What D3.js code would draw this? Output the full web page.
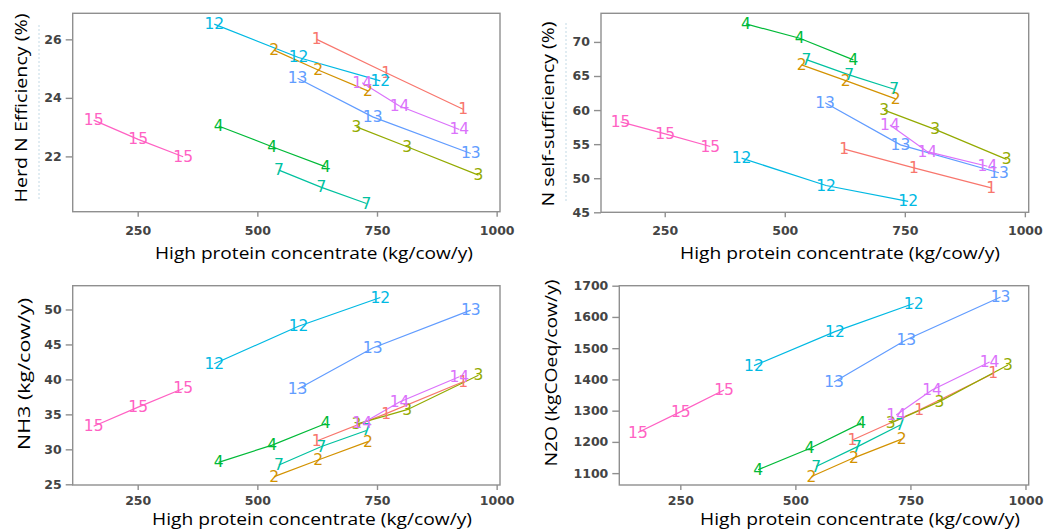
<!DOCTYPE html>
<html><head><meta charset="utf-8">
<script src="https://cdn.jsdelivr.net/npm/d3@7"></script>
<style>html,body{margin:0;padding:0;background:#fff;} svg{display:block;}</style>
</head><body>
<script>
// ---- data ----
const scenarios = ["1","2","3","4","7","12","13","14","15"];
const colors = ["#F8766D","#D39200","#93AA00","#00BA38","#00C19F","#00B9E3","#619CFF","#DB72FB","#FF61C3"];
const concentrate = [
  [624,769,930],[535,627,731],[707,813,962],[419,531,643],[545,634,728],
  [410,586,757],[584,741,946],[719,797,922],[158,251,345]
];
const herdNEfficiency = [
  [26.0,24.86,23.61],[25.63,24.95,24.24],[23.01,22.33,21.36],[23.04,22.33,21.64],[21.53,20.94,20.39],
  [26.52,25.38,24.58],[24.67,23.35,22.10],[24.52,23.72,22.92],[23.24,22.58,21.99]
];
const nSelfSufficiency = [
  [54.27,51.52,48.59],[66.63,64.33,61.64],[60.0,57.17,52.77],[72.64,70.54,67.36],[67.4,65.16,63.06],
  [52.95,48.93,46.61],[61.07,54.9,50.8],[57.8,53.9,51.76],[58.28,56.51,54.65]
];
const nh3 = [
  [31.2,35.1,39.66],[26.1,28.47,31.1],[33.6,35.67,40.6],[28.14,30.6,33.7],[27.76,30.4,32.7],
  [42.24,47.6,51.71],[38.6,44.5,49.9],[33.7,36.76,40.37],[33.3,36.04,38.7]
];
const n2o = [
  [1206,1302,1419],[1089,1149,1209],[1260,1329,1446],[1111,1179,1260],[1121,1184,1254],
  [1444,1553,1643],[1392,1527,1664],[1286,1366,1456],[1230,1297,1366]
];
const xTicks = [250,500,750,1000];
const yTicksEff = [22,24,26];
const yTicksSelf = [45,50,55,60,65,70];
const yTicksNH3 = [25,30,35,40,45,50];
const yTicksN2O = [1100,1200,1300,1400,1500,1600,1700];
const xTitle = "High protein concentrate (kg/cow/y)";
const yTitles = ["Herd N Efficiency (%)","N self-sufficiency (%)","NH3  (kg/cow/y)","N2O (kgCOeq/cow/y)"];

// ---- layout ----
const W = 1054, H = 531;
const panels = [
  {values: herdNEfficiency, yTicks: yTicksEff, yTitle: yTitles[0],
   box:{l:72.7,t:13.3,r:500,b:211.7}, xDom:[114.2,1007], yDom:[20.11,26.89],
   yTitlePos:[20,108], yTitleLen:189, xTitlePos:[314,259], xTitleLen:318, xTickY:235},
  {values: nSelfSufficiency, yTicks: yTicksSelf, yTitle: yTitles[1],
   box:{l:601,t:13.3,r:1028.7,b:212.3}, xDom:[117.3,1008], yDom:[45,74.2],
   yTitlePos:[547,114], yTitleLen:185, xTitlePos:[840,259], xTitleLen:320, xTickY:235},
  {values: nh3, yTicks: yTicksNH3, yTitle: yTitles[2],
   box:{l:72.7,t:285.7,r:500,b:485}, xDom:[114.2,1007], yDom:[24.9,53.4],
   yTitlePos:[23,374], yTitleLen:152, xTitlePos:[312,525], xTitleLen:320, xTickY:505},
  {values: n2o, yTicks: yTicksN2O, yTitle: yTitles[3],
   box:{l:619.3,t:285.7,r:1028.7,b:485}, xDom:[117.4,1007], yDom:[1062,1700],
   yTitlePos:[550,373], yTitleLen:187, xTitlePos:[860,525], xTitleLen:320, xTickY:505}
];

const svg = d3.select("body").append("svg").attr("width", W).attr("height", H);
const frameColor = "#8f8f8f";
const tickColor = "#444";

// faint scan artefact dotted lines left of axes
[[39,25,200],[566,23,203]].forEach(([x,y1,y2]) => {
  svg.append("line").attr("x1",x).attr("x2",x).attr("y1",y1).attr("y2",y2)
    .attr("stroke","#9cc3d6").attr("stroke-width",1).attr("stroke-dasharray","2,2").attr("opacity",0.6);
});

panels.forEach(p => {
  const g = svg.append("g");
  const x = d3.scaleLinear().domain(p.xDom).range([p.box.l, p.box.r]);
  const y = d3.scaleLinear().domain(p.yDom).range([p.box.b, p.box.t]);

  // frame
  g.append("rect").attr("x", p.box.l).attr("y", p.box.t)
    .attr("width", p.box.r - p.box.l).attr("height", p.box.b - p.box.t)
    .attr("fill", "none").attr("stroke", frameColor).attr("stroke-width", 1.4);

  // x axis
  const xa = g.append("g").attr("transform", `translate(0,${p.box.b})`)
    .call(d3.axisBottom(x).tickValues(xTicks).tickSize(5).tickPadding(0).tickFormat(d3.format("d")));
  xa.select(".domain").remove();
  xa.selectAll(".tick line").attr("stroke", frameColor).attr("stroke-width", 1.4);
  xa.selectAll(".tick text").attr("y", null).attr("dy", null)
    .attr("transform", `translate(0,${p.xTickY - p.box.b})`)
    .attr("font-family", "DejaVu Sans").attr("font-weight", "bold").attr("font-size", 12.5).attr("fill", tickColor);

  // y axis
  const ya = g.append("g").attr("transform", `translate(${p.box.l},0)`)
    .call(d3.axisLeft(y).tickValues(p.yTicks).tickSize(7).tickPadding(4).tickFormat(d3.format("d")));
  ya.select(".domain").remove();
  ya.selectAll(".tick line").attr("stroke", frameColor).attr("stroke-width", 1.4);
  ya.selectAll(".tick text").attr("font-family", "DejaVu Sans").attr("font-weight", "bold").attr("font-size", 12.5).attr("fill", tickColor);

  // lines
  const line = d3.line().x(d => x(d[0])).y(d => y(d[1]));
  scenarios.forEach((s, i) => {
    const pts = concentrate[i].map((c, k) => [c, p.values[i][k]]);
    g.append("path").attr("d", line(pts)).attr("fill", "none")
      .attr("stroke", colors[i]).attr("stroke-width", 1.2);
  });
  // labels
  scenarios.forEach((s, i) => {
    concentrate[i].forEach((c, k) => {
      g.append("text").attr("x", x(c)).attr("y", y(p.values[i][k]))
        .attr("text-anchor", "middle").attr("dominant-baseline", "central")
        .attr("font-family", "DejaVu Sans").attr("font-size", 15.5)
        .attr("fill", colors[i]).text(s);
    });
  });

  // titles
  g.append("text").attr("x", p.xTitlePos[0]).attr("y", p.xTitlePos[1])
    .attr("text-anchor", "middle").attr("font-family", "Open Sans").attr("font-size", 17)
    .attr("textLength", p.xTitleLen).attr("lengthAdjust", "spacingAndGlyphs")
    .attr("fill", "#000").text(xTitle);
  g.append("text").attr("transform", `translate(${p.yTitlePos[0]},${p.yTitlePos[1]}) rotate(-90)`)
    .attr("text-anchor", "middle").attr("dominant-baseline", "central")
    .attr("font-family", "Open Sans").attr("font-size", 17)
    .attr("textLength", p.yTitleLen).attr("lengthAdjust", "spacingAndGlyphs")
    .attr("fill", "#000").text(p.yTitle);
});
</script>
</body></html>
